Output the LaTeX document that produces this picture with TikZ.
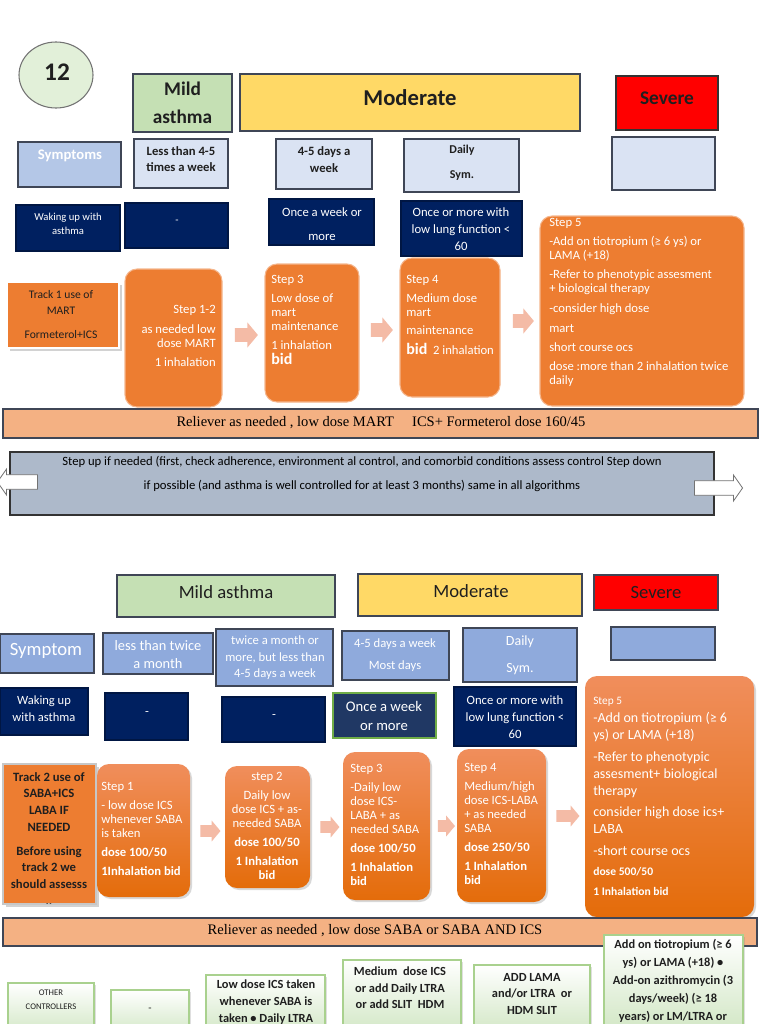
\documentclass[tikz,border=0pt]{standalone}
\usepackage{fontspec}
\setmainfont{Carlito}
\newfontfamily\tnr{Liberation Serif}
\usetikzlibrary{shapes.arrows,shapes.geometric,shadows}
\definecolor{cOrng}{HTML}{ED7D31}
\definecolor{cLOrng}{HTML}{F4B183}
\definecolor{cAPink}{HTML}{F4BBA6}
\definecolor{cNavy}{HTML}{002060}
\definecolor{cSlate}{HTML}{203864}
\definecolor{cLBlue}{HTML}{DAE3F3}
\definecolor{cMBlue}{HTML}{B4C7E7}
\definecolor{cSBlue}{HTML}{8FAADC}
\definecolor{cGrayB}{HTML}{ADB9CA}
\definecolor{cLGreen}{HTML}{C5E0B4}
\definecolor{cCircG}{HTML}{E2F0D9}
\definecolor{cYell}{HTML}{FFD966}
\definecolor{cRed}{HTML}{FF0000}
\definecolor{cBord}{HTML}{3F4656}
\definecolor{cGBord}{HTML}{A9D18E}
\definecolor{cGBord2}{HTML}{70AD47}
\definecolor{cStepTop}{HTML}{F08E5C}
\definecolor{cStepBot}{HTML}{E46C0A}
\newcommand\fs[2]{\fontsize{#1}{#2}\selectfont}
\newcommand\bx[6]{\node[bxs,#2,minimum width={(#5-#3)*0.75pt},minimum height={(#6-#4)*0.75pt}] (#1) at (#3,#4) {};}
\begin{document}
\begin{tikzpicture}[x=0.75pt,y=-0.75pt,
 bxs/.style={draw=cBord,line width=0.8pt,anchor=north west,inner sep=0pt,outer sep=0pt},
 txt/.style={align=center,inner sep=0pt},
 wt/.style={txt,text=white},
 dk/.style={txt,text=black!88},
 stepT/.style={fill=cOrng,draw=cOrng!55!white,line width=0.8pt,rounded corners=9pt},
 stepB/.style={top color=cStepTop,bottom color=cStepBot,draw=none,rounded corners=9pt,drop shadow={opacity=0.3,shadow xshift=1.5pt,shadow yshift=-1.5pt}},
 pinkarr/.style={single arrow,fill=cAPink,draw=none,inner xsep=0pt,inner ysep=5pt,single arrow head extend=4.2pt,single arrow tip angle=100},
 pinkarrS/.style={single arrow,fill=cAPink,draw=none,inner xsep=0pt,inner ysep=4.2pt,single arrow head extend=3.4pt,single arrow tip angle=100},
 whitearr/.style={single arrow,fill=white,draw=black!55,line width=0.6pt,inner xsep=0pt,inner ysep=5.2pt,single arrow head extend=4.2pt,single arrow tip angle=110},
 grn/.style={top color=white,bottom color=cLGreen!85,draw=cGBord,line width=1pt,drop shadow={opacity=0.25,shadow xshift=1.5pt,shadow yshift=-1.5pt}},
 rel/.style={fill=cLOrng,draw=cBord,line width=0.9pt},
 navyb/.style={fill=cNavy,draw=cNavy!70!black},
]
\fill[white] (0,0) rectangle (768,1024);
\useasboundingbox (0,0) rectangle (768,1024);

% ---------- TOP SECTION ----------
\node[ellipse,draw=black!55,fill=cCircG,line width=0.8pt,minimum width=74*0.75pt,minimum height=66*0.75pt,inner sep=0pt] (num) at (56,75) {};
\node[dk,font=\fs{19}{22}\bfseries] (numT) at (57,72) {12};

\bx{mildA}{fill=cLGreen}{133}{74}{232}{132}
\node[dk,font=\fs{14.5}{21}\bfseries] (mildAT) at (182.5,103) {Mild\\asthma};
\bx{modA}{fill=cYell}{240}{74}{580}{131}
\node[dk,font=\fs{17}{20}\bfseries] (modAT) at (410,98) {Moderate};
\bx{sevA}{fill=cRed,draw=black!80,line width=1pt}{616}{76}{718}{130}
\node[dk,font=\fs{14.5}{17}\bfseries] (sevAT) at (667,98) {Severe};

\bx{sym1}{fill=cMBlue}{18}{142}{121}{187}
\node[wt,font=\fs{11}{13}\bfseries] (sym1T) at (70,156) {Symptoms};
\bx{lt45}{fill=cLBlue}{134}{139}{228}{188}
\node[dk,font=\fs{9.5}{12}\bfseries] (lt45T) at (181,159) {Less than 4-5\\times a week};
\bx{d45}{fill=cLBlue}{276}{139}{372}{189}
\node[dk,font=\fs{9.5}{12.5}\bfseries] (d45T) at (324,159.5) {4-5 days a\\week};
\bx{daily1}{fill=cLBlue}{404}{139}{519}{192}
\node[dk,font=\fs{9}{18.5}\bfseries] (daily1T) at (462,163) {Daily\\Sym.};
\bx{sev1}{fill=cLBlue}{612}{137}{715}{190}

\bx{wake1}{navyb}{16}{205}{120}{251}
\node[wt,font=\fs{8}{10.5}] (wake1T) at (68,224) {Waking up with\\asthma};
\bx{dash1}{navyb}{125}{203}{228}{248}
\node[wt,font=\fs{8}{10}] (dash1T) at (177,222) {-};
\bx{onceA}{navyb}{269}{199}{374}{245}
\node[wt,font=\fs{9.5}{18}] (onceAT) at (322,224) {Once a week or\\more};
\bx{onceB}{navyb}{401}{201}{522}{256}
\node[wt,font=\fs{9.5}{12.5}] (onceBT) at (461,229) {Once or more with\\low lung function <\\60};

\bx{tr1}{fill=cOrng,draw=white,line width=2pt,drop shadow={opacity=0.35,shadow xshift=2pt,shadow yshift=-2pt}}{7}{282}{119}{348}
\node[dk,font=\fs{8.7}{12}] (tr1T) at (61,314.5) {Track 1 use of\\MART\\[6pt]Formeterol+ICS};

\bx{s12}{stepT}{125}{269}{222}{407}
\node[txt,text=white,align=right,anchor=north east,font=\fs{9.5}{10.5}] (s12T) at (216,305) {Step 1-2\\[4.5pt]as needed low\\dose MART\\[3.75pt]1 inhalation};
\bx{s3}{stepT}{265}{264}{359}{402}
\node[txt,text=white,align=left,anchor=north west,font=\fs{9.5}{10.5}] (s3T) at (271,275) {Step 3\\[3.75pt]Low dose of\\mart\\maintenance\\[3.75pt]1 inhalation\\[1pt]{\fs{12}{12}\bfseries bid}};
\bx{s4}{stepT}{400}{258}{500}{397}
\node[txt,text=white,align=left,anchor=north west,font=\fs{9.5}{10.5}] (s4T) at (406,275) {Step 4\\[3.75pt]Medium dose\\mart\\[3pt]maintenance\\[4.5pt]{\fs{12}{12}\bfseries bid}\ \ 2 inhalation};
\bx{s5}{stepT}{540}{216}{744}{406}
\node[txt,text=white,align=left,anchor=north west,font=\fs{9.5}{10.5}] (s5T) at (549,218) {Step 5\\[3.75pt]-Add on tiotropium (≥ 6 ys) or\\LAMA (+18)\\[3.75pt]-Refer to phenotypic assesment\\+ biological therapy\\[4.5pt]-consider high dose\\[4.5pt]mart\\[3.75pt]short course ocs\\[3.75pt]dose :more than 2 inhalation twice\\daily};

\node[pinkarr,minimum height=23*0.75pt] (ar1) at (243.5,335) {};
\node[pinkarr,minimum height=22*0.75pt] (ar2) at (379,330) {};
\node[pinkarr,minimum height=21*0.75pt] (ar3) at (520.5,321) {};

\bx{rel1}{rel}{3}{409}{758}{438}
\node[txt,font={\tnr\fs{10.9}{12}}] (rel1T) at (381,422.5) {Reliever as needed , low dose MART \quad ICS+ Formeterol dose 160/45};

\bx{stepup}{fill=cGrayB,draw=black!80}{10}{452}{714}{515}
\node[txt,font=\fs{9.5}{18}] (stepupT) at (362,474) {Step up if needed (first, check adherence, environment al control, and comorbid conditions assess control Step down\\if possible (and asthma is well controlled for at least 3 months) same in all algorithms};
\node[whitearr,minimum height=40*0.75pt,shape border rotate=180] (larr) at (20,482) {};
\node[whitearr,minimum height=48*0.75pt] (rarr) at (716,488) {};

% ---------- BOTTOM SECTION ----------
\bx{mildB}{fill=cLGreen}{117}{575}{335}{617}
\node[dk,font=\fs{14}{16}] (mildBT) at (226,592) {Mild asthma};
\bx{modB}{fill=cYell}{358}{574}{582}{616}
\node[dk,font=\fs{14}{16}] (modBT) at (471,591) {Moderate};
\bx{sevB}{fill=cRed}{594}{575}{718}{610}
\node[dk,font=\fs{14}{16}] (sevBT) at (656,592) {Severe};

\bx{sym2}{fill=cSBlue}{0}{634}{94}{673}
\node[wt,font=\fs{14}{16}] (sym2T) at (46,651) {Symptom};
\bx{lt2}{fill=cSBlue}{103}{633}{213}{674}
\node[wt,font=\fs{10.8}{13.5}] (lt2T) at (158,655) {less than twice\\a month};
\bx{tw}{fill=cSBlue}{216}{629}{333}{686}
\node[wt,font=\fs{9.5}{12.4}] (twT) at (275,658) {twice a month or\\more, but less than\\4-5 days a week};
\bx{d45b}{fill=cSBlue}{342}{631}{449}{680}
\node[wt,font=\fs{9.5}{17}] (d45bT) at (395,655) {4-5 days a week\\Most days};
\bx{daily2}{fill=cSBlue}{463}{628}{577}{682}
\node[wt,font=\fs{10.5}{20}] (daily2T) at (520,655) {Daily\\Sym.};
\bx{sev2}{fill=cSBlue}{611}{627}{715}{660}

\bx{wake2}{navyb}{0}{688}{88}{735}
\node[wt,font=\fs{9.4}{12.75}] (wake2T) at (44,709) {Waking up\\with asthma};
\bx{dash2}{navyb}{105}{693}{188}{740}
\node[wt,font=\fs{9.4}{12}] (dash2T) at (147,713) {-};
\bx{dash3}{navyb}{222}{697}{325}{742}
\node[wt,font=\fs{9.4}{12}] (dash3T) at (274,716) {-};
\bx{once2}{fill=cSlate,draw=cGBord2,line width=1pt}{333}{693}{436}{738}
\node[wt,font=\fs{11}{14.25}] (once2T) at (384,716) {Once a week\\or more};
\bx{onceB2}{navyb}{454}{687}{576}{746}
\node[wt,font=\fs{9.5}{12.75}] (onceB2T) at (515,717) {Once or more with\\low lung function <\\60};

\bx{tr2}{fill=cOrng,draw=black!22,line width=1.6pt,drop shadow={opacity=0.35,shadow xshift=2pt,shadow yshift=-2pt}}{3}{764}{96}{904}
\begin{scope}
\clip (4,765) rectangle (95,903);
\node[dk,font=\fs{9.5}{12.5}\bfseries,anchor=north] (tr2T) at (49,772) {Track 2 use of\\SABA+ICS\\LABA IF\\NEEDED\\[5.5pt]Before using\\track 2 we\\should assesss\\..};
\end{scope}

\bx{b1}{stepB}{97}{764}{190}{897}
\node[wt,align=left,anchor=north west,font=\fs{9.5}{10.5}] (b1T) at (101,782) {Step 1\\[3.75pt]- low dose ICS\\whenever SABA\\is taken\\[3.75pt]\textbf{dose 100/50}\\[3.75pt]\textbf{1Inhalation bid}};
\bx{b2}{stepB}{225}{766}{310}{888}
\node[wt,anchor=north,font=\fs{9.5}{10.5}] (b2T) at (267,772) {step 2\\[3.75pt]Daily low\\dose ICS + as-\\needed SABA\\[3.75pt]\textbf{dose 100/50}\\[3.75pt]\textbf{1 Inhalation}\\\textbf{bid}};
\bx{b3}{stepB}{343}{752}{430}{900}
\node[wt,align=left,anchor=north west,font=\fs{9.5}{10.5}] (b3T) at (350,764) {Step 3\\[3.75pt]-Daily low\\dose ICS-\\LABA + as\\needed SABA\\[3.75pt]\textbf{dose 100/50}\\[3.75pt]\textbf{1 Inhalation}\\\textbf{bid}};
\bx{b4}{stepB}{457}{749}{546}{902}
\node[wt,align=left,anchor=north west,font=\fs{9.5}{10.5}] (b4T) at (464,763) {Step 4\\[3.75pt]Medium/high\\dose ICS-LABA\\+ as needed\\SABA\\[3.75pt]\textbf{dose 250/50}\\[3.75pt]\textbf{1 Inhalation}\\\textbf{bid}};
\bx{b5}{stepB}{585}{676}{754}{917}
\node[wt,align=left,anchor=north west,font=\fs{10.5}{12.75}] (b5T) at (593,697) {{\fs{8.5}{10}Step 5}\\[1pt]-Add on tiotropium (≥ 6\\ys) or LAMA (+18)\\[3.75pt]-Refer to phenotypic\\assesment+ biological\\therapy\\[3pt]consider high dose ics+\\LABA\\[3.75pt]-short course ocs\\[2pt]{\fs{8.7}{10}\bfseries dose 500/50}\\[2pt]{\fs{8.7}{10}\bfseries 1 Inhalation bid}};

\node[pinkarrS,minimum height=20*0.75pt] (br1) at (208,831) {};
\node[pinkarrS,minimum height=19*0.75pt] (br2) at (327.5,827) {};
\node[pinkarrS,minimum height=17*0.75pt] (br3) at (444,826) {};
\node[pinkarrS,minimum height=23*0.75pt] (br4) at (565.5,816) {};

\bx{rel2}{rel}{3}{918}{757}{946}
\node[txt,font={\tnr\fs{10.9}{12}}] (rel2T) at (375,931) {Reliever as needed , low dose SABA or SABA AND ICS};

\bx{oc}{grn}{8}{983}{94}{1040}
\node[dk,font=\fs{6.5}{10.5}] (ocT) at (51,1000) {OTHER\\CONTROLLERS};
\bx{g1}{grn}{111}{990}{189}{1040}
\node[dk,font=\fs{8}{10}] (g1T) at (150,1010) {-};
\bx{g2}{grn}{206}{975}{325}{1040}
\node[dk,font=\fs{9.3}{12.75}\bfseries] (g2T) at (266,1002) {Low dose ICS taken\\whenever SABA is\\taken • Daily LTRA};
\bx{g3}{grn}{343}{960}{461}{1040}
\node[dk,font=\fs{9.3}{12.5}\bfseries] (g3T) at (400,988) {Medium\ \ dose ICS\\or add Daily LTRA\\or add SLIT\ \ HDM};
\bx{g4}{grn}{474}{965}{590}{1040}
\node[dk,font=\fs{9.3}{12.5}\bfseries] (g4T) at (532,994) {ADD LAMA\\and/or LTRA\ \ or\\HDM SLIT};
\bx{g5}{grn}{604}{935}{743}{1040}
\node[dk,font=\fs{9.3}{13.5}\bfseries] (g5T) at (673,981) {Add on tiotropium (≥ 6\\ys) or LAMA (+18) •\\Add-on azithromycin (3\\days/week) (≥ 18\\years) or LM/LTRA or};
\end{tikzpicture}
\end{document}
